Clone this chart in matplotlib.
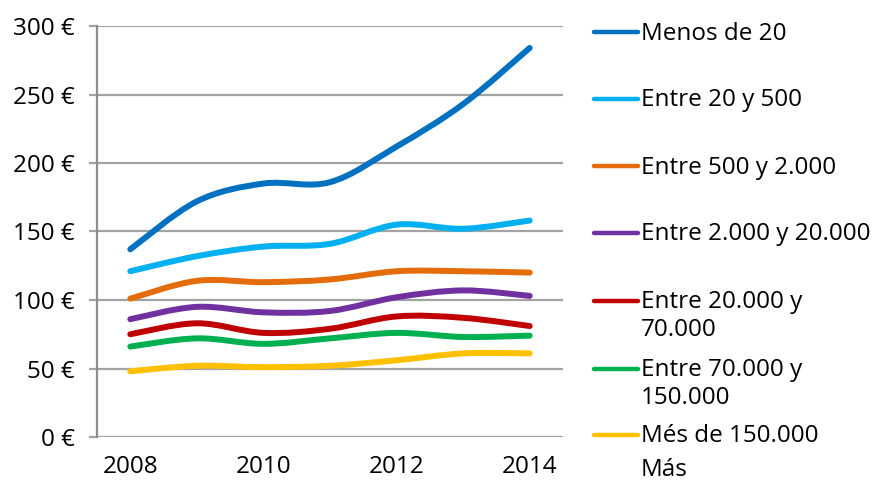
import matplotlib
matplotlib.use("Agg")
import matplotlib.pyplot as plt
import numpy as np
from matplotlib.path import Path
from matplotlib.patches import PathPatch
from matplotlib.lines import Line2D

plt.rcParams['font.family'] = ['Open Sans', 'DejaVu Sans']

years = [2008, 2009, 2010, 2011, 2012, 2013, 2014]
tick_years = [2008, 2010, 2012, 2014]
y_ticks = [0, 50, 100, 150, 200, 250, 300]
y_tick_labels = ['0 €', '50 €', '100 €', '150 €', '200 €', '250 €', '300 €']

series_labels = ['Menos de 20', 'Entre 20 y 500', 'Entre 500 y 2.000',
                 'Entre 2.000 y 20.000', 'Entre 20.000 y\n70.000',
                 'Entre 70.000 y\n150.000', 'Més de 150.000']
menos_20 = [137, 172, 185, 186, 212, 243, 284]
entre_20_500 = [121, 132, 139, 141, 155, 152, 158]
entre_500_2000 = [101, 114, 113, 115, 121, 121, 120]
entre_2000_20000 = [86, 95, 91, 92, 102, 107, 103]
entre_20000_70000 = [75, 83, 76, 79, 88, 87, 81]
entre_70000_150000 = [66, 72, 68, 72, 76, 73, 74]
mes_150000 = [48, 52, 51, 52, 56, 61, 61]
extra_text = 'Más'

all_series = [menos_20, entre_20_500, entre_500_2000, entre_2000_20000,
              entre_20000_70000, entre_70000_150000, mes_150000]
colors = ['#0070C0', '#00B0F0', '#E46C0A', '#7030A0', '#C00000', '#00B050', '#FFC000']

FS = 17.5


def smooth_path(xs, ys):
    pts = np.column_stack([xs, ys]).astype(float)
    n = len(pts)
    verts = [tuple(pts[0])]
    codes = [Path.MOVETO]
    for i in range(n - 1):
        p0 = pts[max(i - 1, 0)]
        p1 = pts[i]
        p2 = pts[i + 1]
        p3 = pts[min(i + 2, n - 1)]
        c1 = p1 + (p2 - p0) / 6.0
        c2 = p2 - (p3 - p1) / 6.0
        verts += [tuple(c1), tuple(c2), tuple(p2)]
        codes += [Path.CURVE4] * 3
    return Path(verts, codes)


fig = plt.figure(figsize=(8.85, 4.82), dpi=100)
ax = fig.add_axes([97 / 885, 1 - 437 / 482, (563 - 97) / 885, (437 - 26) / 482])

for vals, col in zip(all_series, colors):
    patch = PathPatch(smooth_path(years, vals), facecolor='none', edgecolor=col,
                      lw=4.3, capstyle='round', joinstyle='round', zorder=3)
    ax.add_patch(patch)

ax.set_xlim(2007.5, 2014.5)
ax.set_ylim(0, 300)
ax.set_yticks(y_ticks)
ax.set_yticklabels(y_tick_labels)
ax.set_xticks(tick_years)
ax.set_xticklabels([str(y) for y in tick_years])
ax.grid(axis='y', color='#A3A3A3', lw=1.6, zorder=1)
ax.set_axisbelow(True)
for s in ['top', 'right', 'bottom']:
    ax.spines[s].set_visible(False)
ax.spines['left'].set_color('#8C8C8C')
ax.spines['left'].set_linewidth(1.6)
ax.tick_params(axis='y', length=6, width=1.6, color='#A3A3A3', pad=10, labelsize=FS)
ax.tick_params(axis='x', length=0, pad=13, labelsize=FS)

# manual legend
leg_y = [32, 99, 166, 233, 301, 369, 435]
for lab, col, yy in zip(series_labels, colors, leg_y):
    yf = 1 - yy / 482
    fig.add_artist(Line2D([594 / 885, 638 / 885], [yf, yf], color=col, lw=3.2,
                          solid_capstyle='round', transform=fig.transFigure))
    for k, line in enumerate(lab.split('\n')):
        base = yy + 7.5 + 28 * k
        fig.text(641 / 885, 1 - base / 482, line, fontsize=FS, va='baseline', ha='left')
fig.text(641 / 885, 1 - 476 / 482, extra_text, fontsize=FS, va='baseline', ha='left')

fig.savefig('out.png', dpi=100)
